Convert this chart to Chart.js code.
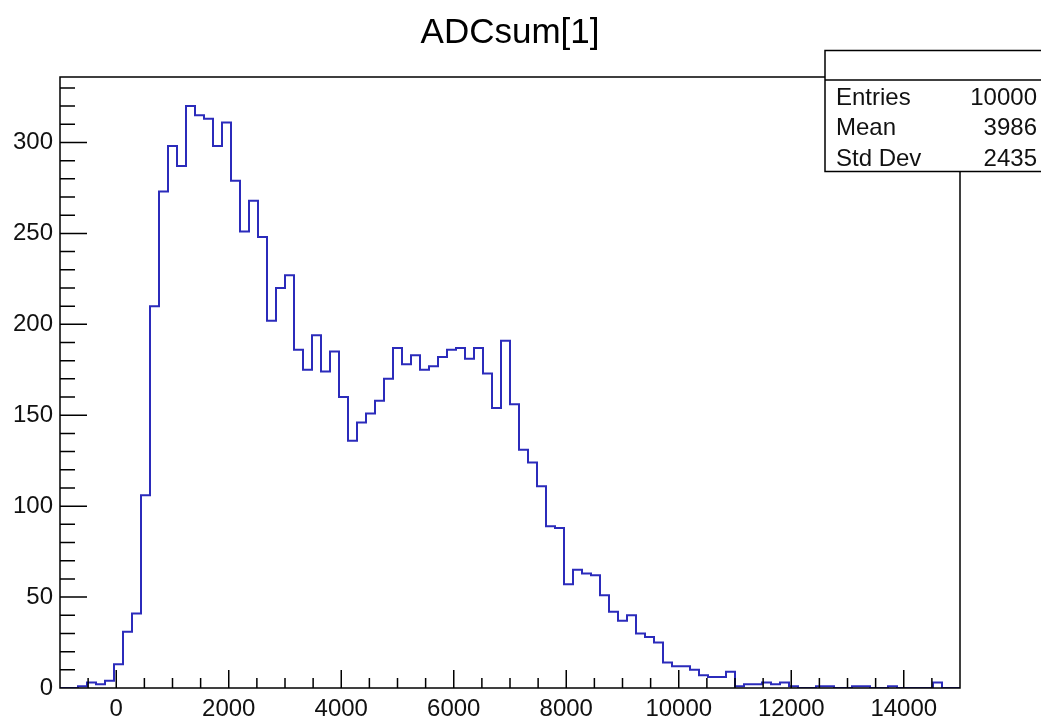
<!DOCTYPE html>
<html>
<head>
<meta charset="utf-8">
<title>ADCsum[1]</title>
<script src="https://cdn.jsdelivr.net/npm/chart.js@4.4.1/dist/chart.umd.min.js"></script>
<style>
  html, body { margin: 0; padding: 0; background: #fff; }
  #chart { display: block; }
</style>
</head>
<body>
<canvas id="chart" width="1041" height="716"></canvas>
<script>
// histogram ADCsum[1]: 100 bins from -1000 to 15000
const histTitle = 'ADCsum[1]';
const xMin = -1000;
const xMax = 15000;
const binWidth = 160;
const yMax = 336;

const counts = [
    0, 0, 1, 3, 2, 4, 13, 31, 41, 106,
    210, 273, 298, 287, 320, 315, 313, 298, 311, 279,
    251, 268, 248, 202, 220, 227, 186, 175, 194, 174,
    185, 160, 136, 146, 151, 158, 170, 187, 178, 183,
    175, 177, 182, 186, 187, 181, 187, 173, 154, 191,
    156, 131, 124, 111, 89, 88, 57, 65, 63, 62,
    51, 42, 37, 40, 30, 28, 25, 14, 12, 12,
    10, 7, 6, 6, 9, 1, 2, 2, 3, 2,
    3, 1, 0, 0, 1, 1, 0, 0, 1, 1,
    0, 0, 1, 0, 0, 0, 0, 3, 0, 0
];

const xTickLabels = [0, 2000, 4000, 6000, 8000, 10000, 12000, 14000];
const yTickLabels = [0, 50, 100, 150, 200, 250, 300];

const statNames = ['Entries', 'Mean', 'Std Dev'];
const statValues = ['10000', '3986', '2435'];

const fontFamily = '"Liberation Sans", Arial, Helvetica, sans-serif';
const lineColor = '#2b2bbb';

// step points: value of bin i is held from its left edge to the next edge
const points = counts.map((c, i) => ({ x: xMin + i * binWidth, y: c }));
points.push({ x: xMax, y: 0 });

const rootFrame = {
    id: 'rootFrame',
    afterDatasetsDraw(chart) {
        const { ctx, chartArea: a, scales } = chart;
        ctx.save();
        ctx.strokeStyle = '#000';
        ctx.lineWidth = 1.5;

        // x ticks, inside the frame
        ctx.beginPath();
        for (let v = -500; v < xMax; v += 500) {
            const px = scales.x.getPixelForValue(v);
            const len = v % 2000 === 0 ? 18 : 10;
            ctx.moveTo(px, a.bottom);
            ctx.lineTo(px, a.bottom - len);
        }
        // y ticks
        for (let v = 10; v < yMax; v += 10) {
            const py = scales.y.getPixelForValue(v);
            const len = v % 50 === 0 ? 27 : 15;
            ctx.moveTo(a.left, py);
            ctx.lineTo(a.left + len, py);
        }
        ctx.stroke();

        ctx.strokeRect(a.left, a.top, a.right - a.left, a.bottom - a.top);
        ctx.restore();
    },
    afterDraw(chart) {
        const { ctx } = chart;
        ctx.save();

        ctx.fillStyle = '#000';
        ctx.font = '35px ' + fontFamily;
        ctx.textAlign = 'center';
        ctx.textBaseline = 'middle';
        ctx.fillText(histTitle, 510, 33);

        // stats box
        const bx = 825, by = 50.5, bw = 230, bh = 121;
        ctx.fillStyle = '#fff';
        ctx.fillRect(bx, by, bw, bh);
        ctx.strokeStyle = '#000';
        ctx.lineWidth = 1.5;
        ctx.strokeRect(bx, by, bw, bh);
        ctx.beginPath();
        ctx.moveTo(bx, 80);
        ctx.lineTo(bx + bw, 80);
        ctx.stroke();

        ctx.fillStyle = '#111';
        ctx.font = '24px ' + fontFamily;
        statNames.forEach((name, i) => {
            const y = 98 + i * 30.5;
            ctx.textAlign = 'left';
            ctx.fillText(name, 836, y);
            ctx.textAlign = 'right';
            ctx.fillText(statValues[i], 1037, y);
        });
        ctx.restore();
    }
};

const chart = document.querySelector('#chart').getContext('2d');

new Chart(chart, {
    type: 'line',
    data: {
        datasets: [
            {
                label: histTitle,
                data: points,
                stepped: true,
                borderColor: lineColor,
                borderWidth: 2,
                pointRadius: 0,
                fill: false
            }
        ]
    },
    options: {
        responsive: false,
        animation: false,
        devicePixelRatio: 1,
        layout: { padding: { top: 77, right: 81, left: 0, bottom: 0 } },
        plugins: {
            legend: { display: false },
            tooltip: { enabled: false },
            title: { display: false }
        },
        scales: {
            x: {
                type: 'linear',
                min: xMin,
                max: xMax,
                grid: { display: false, drawTicks: false },
                border: { display: false },
                afterBuildTicks: s => { s.ticks = xTickLabels.map(v => ({ value: v })); },
                afterFit: s => { s.height = 28; },
                ticks: {
                    font: { family: fontFamily, size: 24 },
                    color: '#111',
                    padding: 7,
                    maxRotation: 0,
                    autoSkip: false,
                    callback: v => String(v)
                }
            },
            y: {
                min: 0,
                max: yMax,
                grid: { display: false, drawTicks: false },
                border: { display: false },
                afterBuildTicks: s => { s.ticks = yTickLabels.map(v => ({ value: v })); },
                afterFit: s => { s.width = 60; },
                ticks: {
                    font: { family: fontFamily, size: 24 },
                    color: '#111',
                    padding: 7,
                    autoSkip: false,
                    callback: v => String(v)
                }
            }
        }
    },
    plugins: [rootFrame]
});
</script>
</body>
</html>
